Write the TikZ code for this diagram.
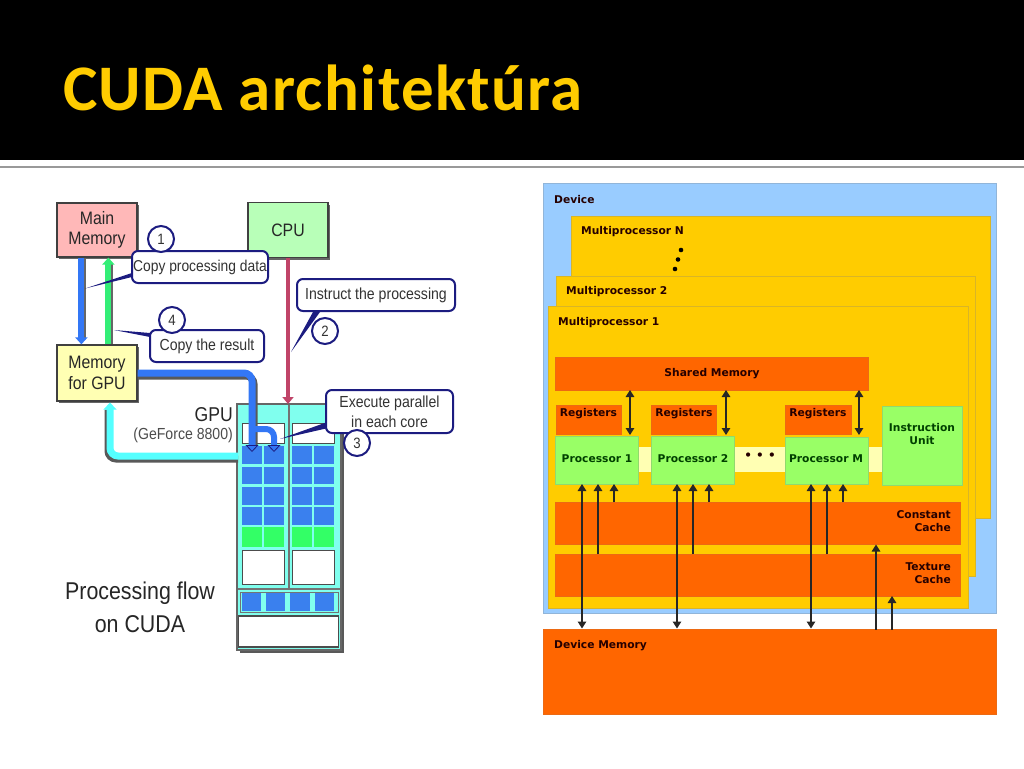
\documentclass[tikz,border=0pt]{standalone}
\usepackage{fontspec}
\setmainfont{Liberation Sans}
\newfontfamily\titlefont[LetterSpace=2.1]{Carlito}
\newfontfamily\verd{DejaVu Sans}
\newfontfamily\goth[FakeStretch=0.88]{Liberation Sans}
\usetikzlibrary{arrows.meta,calc,shadows}
\definecolor{devblue}{HTML}{99CCFF}
\definecolor{mpgold}{HTML}{FFCC00}
\definecolor{cacheor}{HTML}{FF6600}
\definecolor{procgr}{HTML}{99FF66}
\definecolor{barye}{HTML}{FFFFB3}
\definecolor{navyc}{HTML}{1C1C80}
\definecolor{pipeblue}{HTML}{3377F5}
\definecolor{pipecyan}{HTML}{55FFFF}
\definecolor{pipegreen}{HTML}{33EE77}
\definecolor{pipered}{HTML}{C04468}
\definecolor{coreblue}{HTML}{3A80EE}
\definecolor{coregreen}{HTML}{33FF66}
\definecolor{gpucyan}{HTML}{80FFEE}
\definecolor{titlegold}{HTML}{FFCC00}
\definecolor{mmpink}{HTML}{FFB8B8}
\definecolor{cpugreen}{HTML}{B8FFB8}
\newcommand\bx[6]{\node[#6,minimum width={#4-#2},minimum height={#5-#3},inner sep=0pt,outer sep=0pt] (#1) at ({(#2+#4)/2},{(#3+#5)/2}) {};}
\tikzset{
  dev/.style={fill=devblue,draw=devblue!70!gray,line width=.7pt},
  mp/.style={fill=mpgold,draw=mpgold!70!gray,line width=.7pt},
  cache/.style={fill=cacheor,draw=cacheor!85!gray,line width=.4pt},
  proc/.style={fill=procgr,draw=procgr!70!gray,line width=.7pt},
  bar/.style={fill=barye},
  vt/.style={font=\verd\bfseries\fontsize{10.7}{13}\selectfont,text=black!85!red,inner sep=0pt,align=center},
  vtg/.style={vt,text=black!75!green},
  both/.style={{Triangle[width=8.5pt,length=7pt]}-{Triangle[width=8.5pt,length=7pt]},line width=1.3pt,black!85},
  up/.style={-{Triangle[width=8.5pt,length=7pt]},line width=1.3pt,black!85},
  lmem/.style={draw=black!75,line width=1.2pt,copy shadow={shadow xshift=2pt,shadow yshift=-2pt,fill=black!60,draw=none},font=\goth\fontsize{18}{20.5}\selectfont,align=center,text=black!85},
  call/.style={draw=navyc,fill=white,line width=2pt,rounded corners=6pt,font=\goth\fontsize{16}{17}\selectfont,align=center,inner sep=0pt,text=black!80},
  num/.style={circle,draw=navyc,fill=white,line width=2pt,minimum size=26pt,inner sep=0pt,font=\goth\fontsize{15}{16}\selectfont,text=black!80},
  tail/.style={fill=navyc},
  pipe/.style={line width=7pt,rounded corners=8pt},
  corehead/.style={-{Triangle[width=13pt,length=7pt,color=navyc,fill=pipeblue,line width=.8pt]}},
  whitebox/.style={fill=white,draw=black!70,line width=.7pt},
}
\begin{document}
\begin{tikzpicture}[x=1pt,y=-1pt]
\useasboundingbox (0,0) rectangle (1024,768);
\fill[white] (0,0) rectangle (1024,768);
% header
\fill[black] (0,0) rectangle (1024,160);
\fill[black!40] (0,165.5) rectangle (1024,167.5);
\node[anchor=base west,inner sep=0pt,text=titlegold,font=\titlefont\bfseries\fontsize{65}{70}\selectfont] (title) at (63,110) {CUDA architektúra};

% ---------- right diagram
\bx{device}{543}{183}{996}{613}{dev}
\node[vt,anchor=west] (ldev) at (554,200) {Device};
\bx{mpn}{571}{216}{990}{518}{mp}
\node[vt,anchor=west] (lmpn) at (581,232) {Multiprocessor N};
\foreach \dx/\dy [count=\i] in {681/250,678/259.5,675/269}{\fill[black] (\dx,\dy) circle (2.3pt);}
\bx{mp2}{556}{276}{975}{576}{mp}
\node[vt,anchor=west] (lmp2) at (566,292) {Multiprocessor 2};
\bx{mp1}{548}{306}{968}{608}{mp}
\node[vt,anchor=west] (lmp1) at (558,322.5) {Multiprocessor 1};
\bx{shared}{555}{357}{868}{390}{cache}
\node[vt] (lshared) at (712,373.5) {Shared Memory};
\bx{bar}{636}{447}{884}{472}{bar}
\bx{reg1}{556}{405}{621}{434}{cache}
\bx{reg2}{651}{405}{716}{434}{cache}
\bx{regm}{785}{405}{851}{434}{cache}
\node[vt] (lr1) at (588.5,413.5) {Registers};
\node[vt] (lr2) at (684,413.5) {Registers};
\node[vt] (lrm) at (818,413.5) {Registers};
\bx{p1}{555}{436}{638}{484}{proc}
\bx{p2}{651.5}{436}{734.5}{484}{proc}
\bx{pm}{785}{437}{868}{484}{proc}
\bx{iu}{882}{406}{962}{485}{proc}
\node[vtg] (lp1) at (597,459) {Processor 1};
\node[vtg] (lp2) at (693,459) {Processor 2};
\node[vtg] (lpm) at (826,459) {Processor M};
\node[vtg] (liu) at (922,434) {Instruction\\Unit};
\node[vt,font=\verd\bfseries\fontsize{12}{14}\selectfont] (ldots) at (760,456) {• • •};
\bx{const}{555}{502}{960}{544.5}{cache}
\bx{tex}{555}{554}{960}{596}{cache}
\node[vt,anchor=east,align=right] (lconst) at (951,521) {Constant\\Cache};
\node[vt,anchor=east,align=right] (ltex) at (951,573) {Texture\\Cache};
\bx{dm}{543}{629.5}{996}{714}{cache}
\node[vt,anchor=west] (ldm) at (554,646) {Device Memory};
% arrows shared <-> processors
\draw[both] ($(shared.south west)+(75,0)$) -- ($(p1.north west)+(75,-1)$);
\draw[both] ($(shared.south west)+(171,0)$) -- ($(p2.north west)+(74.5,-1)$);
\draw[both] ($(shared.south west)+(304,0)$) -- ($(pm.north west)+(74,-2)$);
% device memory <-> processors
\draw[both] ($(p1.south west)+(27,0)$) -- ($(dm.north west)+(39,-1)$);
\draw[both] ($(p2.south west)+(25.5,0)$) -- ($(dm.north west)+(134,-1)$);
\draw[both] ($(pm.south west)+(26,0)$) -- ($(dm.north west)+(268,-1)$);
% texture -> processors
\draw[up] ($(tex.north west)+(43,0)$) -- ($(p1.south west)+(43,0)$);
\draw[up] ($(tex.north west)+(138,0)$) -- ($(p2.south west)+(41.5,0)$);
\draw[up] ($(tex.north west)+(272,0)$) -- ($(pm.south west)+(42,0)$);
% constant -> processors
\draw[up] ($(const.north west)+(59,0)$) -- ($(p1.south west)+(59,0)$);
\draw[up] ($(const.north west)+(154,0)$) -- ($(p2.south west)+(57.5,0)$);
\draw[up] ($(const.north west)+(288,0)$) -- ($(pm.south west)+(58,0)$);
% memory -> caches
\draw[up] ($(dm.north west)+(333,0)$) -- ($(const.south west)+(321,0)$);
\draw[up] ($(dm.north west)+(349,0)$) -- ($(tex.south west)+(337,0)$);

% ---------- left diagram: GPU block
\bx{gpu}{237}{404}{341}{650}{fill=gpucyan,draw=black!60,line width=2pt,copy shadow={shadow xshift=2.5pt,shadow yshift=-2.5pt,fill=black!65,draw=none}}
\bx{gpudiv}{287.5}{405}{289.5}{589}{fill=black!55}
\bx{gpuhr}{238}{588}{340}{590}{fill=black!55}
\foreach \col/\xa/\xb in {a/242/262,b/264/284,c/292/311.5,d/314/334}{
  \foreach \row/\ya/\yb in {1/446/464,2/467/484,3/487/505,4/507/525}{
    \bx{\col\row}{\xa}{\ya}{\xb}{\yb}{fill=coreblue}
  }
  \bx{\col g}{\xa}{527}{\xb}{547}{fill=coregreen}
}
\bx{wa}{242}{423}{284}{443}{whitebox}
\bx{wb}{292}{423}{334}{443}{whitebox}
\bx{wc}{242}{550}{284}{584}{whitebox}
\bx{wd}{292}{550}{334}{584}{whitebox}
\bx{frow}{240}{592}{338}{612}{draw=black!55,line width=.8pt}
\foreach \n/\xa/\xb in {e/241.5/261,f/266/285,h/290/310,i/315/334}{
  \bx{\n}{\xa}{593}{\xb}{611}{fill=coreblue}
}
\bx{wbot}{238.5}{616}{338.5}{647}{whitebox,line width=1.2pt}

% left boxes
\node[lmem,fill=mmpink,minimum width=80pt,minimum height=54pt,inner sep=0pt] (mm) at (97,230) {Main\\Memory};
\node[lmem,fill=cpugreen,minimum width=80pt,minimum height=55pt,inner sep=0pt] (cpu) at (288,230) {CPU};
\node[lmem,fill=barye,minimum width=80pt,minimum height=56pt,inner sep=0pt] (mg) at (97,373) {Memory\\for GPU};

% pipes
\draw[line width=6pt,black!60] ($(mm.south west)+(27,0)$) -- ($(mg.north west)+(27,-6)$);
\draw[line width=6pt,pipeblue,-{Triangle[width=12pt,length=7pt]}] ($(mm.south west)+(25,0)$) -- ($(mg.north west)+(25,0)$);
\draw[line width=6pt,black!60] ($(mg.north west)+(54,0)$) -- ($(mm.south west)+(54,6)$);
\draw[line width=6pt,pipegreen,-{Triangle[width=12pt,length=7pt]}] ($(mg.north west)+(52,0)$) -- ($(mm.south west)+(52,0)$);
\draw[line width=4pt,pipered,-{Triangle[width=11pt,length=7pt]}] (cpu.south) -- ($(gpu.north)+(-1,0)$);
% cyan pipe
\draw[pipe,black!65] ($(gpu.west)+(1,-68)$) -| ($(mg.south)+(11,8)$);
\draw[pipe,pipecyan,-{Triangle[width=13pt,length=7pt]}] ($(gpu.west)+(1,-71)$) -| ($(mg.south)+(13,1)$);
% blue pipe
\draw[pipe,black!65] ($(mg.east)+(0,3)$) -| ($(a1.north)+(2,-1)$);
\draw[pipe,pipeblue,corehead] (mg.east) -| ($(a1.north)+(0,6)$);
\coordinate (branch) at ($(a1.north)+(0,-17)$);
\draw[pipe,line width=6pt,pipeblue,corehead] (branch) -| ($(b1.north)+(0,6)$);

% callouts
\node[call,minimum width=136pt,minimum height=32pt,font=\goth\fontsize{15.7}{17}\selectfont] (c1) at (200,267) {Copy processing data};
\node[call,minimum width=114pt,minimum height=32pt] (c4) at (207,346) {Copy the result};
\node[call,minimum width=158pt,minimum height=32pt] (c2) at (376,295) {Instruct the processing};
\node[call,minimum width=127pt,minimum height=43pt,font=\goth\fontsize{16}{20}\selectfont] (c3) at (389.5,411.5) {Execute parallel\\in each core};
\coordinate (t1) at (85,288.5);
\coordinate (t4) at (114,330);
\coordinate (t2) at (291,352);
\coordinate (t3) at (280,439);
\fill[tail] ($(c1.west)+(1,6)$) -- (t1) -- ($(c1.west)+(1,10)$) -- cycle;
\fill[tail] ($(c4.west)+(1,-13)$) -- (t4) -- ($(c4.west)+(1,-9)$) -- cycle;
\fill[tail] ($(c2.south west)+(24,0)$) -- (t2) -- ($(c2.south west)+(17,0)$) -- cycle;
\fill[tail] ($(c3.west)+(1,11)$) -- (t3) -- ($(c3.west)+(1,17)$) -- cycle;
\node[num] (n1) at (161,239) {1};
\node[num] (n4) at (172,320) {4};
\node[num] (n2) at (325,331) {2};
\node[num] (n3) at (357,443) {3};

% left labels
\node[anchor=east,inner sep=0pt,text=black!85,font=\goth\fontsize{20}{20}\selectfont] (lgpu) at (233,415) {GPU};
\node[anchor=east,inner sep=0pt,text=black!70,font=\goth\fontsize{16}{15}\selectfont] (lgf) at (233,435) {(GeForce 8800)};
\node[inner sep=0pt,align=center,text=black!85,font=\goth\fontsize{24.3}{33}\selectfont] (lflow) at (140,607.5) {Processing flow\\on CUDA};
\end{tikzpicture}
\end{document}
